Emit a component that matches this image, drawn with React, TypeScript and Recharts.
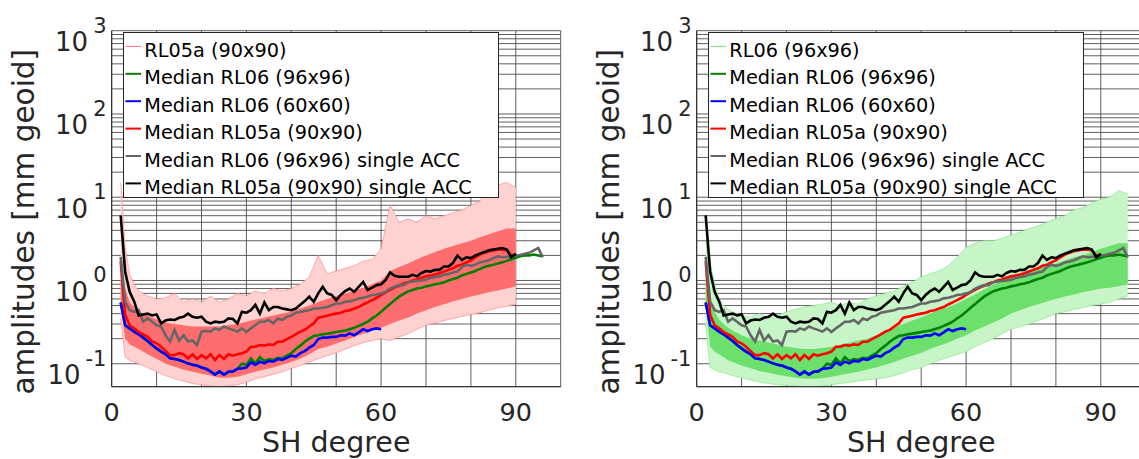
import { Area, CartesianGrid, ComposedChart, Legend, Line, XAxis, YAxis } from 'recharts';

// SH degrees for the median curves
const DEGREES = [
  2, 3, 4, 5, 6, 7, 8, 9, 10, 11, 12, 13, 14, 15, 16, 17, 18, 19, 20, 21, 22, 23, 24, 25, 26, 27, 28, 29, 30,
  31, 32, 33, 34, 35, 36, 37, 38, 39, 40, 41, 42, 43, 44, 45, 46, 47, 48, 49, 50, 51, 52, 53, 54, 55, 56, 57,
  58, 59, 60, 61, 62, 63, 64, 65, 66, 67, 68, 69, 70, 71, 72, 73, 74, 75, 76, 77, 78, 79, 80, 81, 82, 83, 84,
  85, 86, 87, 88, 89, 90, 91, 92, 93, 94, 95, 96,
];

// medians, starting at degree 2
const MED_RL06_96 = [
  0.545, 0.29, 0.266, 0.243, 0.226, 0.206, 0.188, 0.168, 0.153, 0.14, 0.13, 0.116, 0.114, 0.111, 0.106, 0.101,
  0.097, 0.095, 0.09, 0.087, 0.081, 0.074, 0.081, 0.074, 0.08, 0.081, 0.087, 0.1, 0.097, 0.116, 0.101, 0.12,
  0.108, 0.114, 0.111, 0.118, 0.116, 0.125, 0.134, 0.15, 0.165, 0.184, 0.2, 0.215, 0.22, 0.226, 0.23, 0.235,
  0.24, 0.245, 0.25, 0.26, 0.27, 0.285, 0.3, 0.32, 0.35, 0.38, 0.42, 0.47, 0.52, 0.58, 0.64, 0.69, 0.74, 0.77,
  0.8, 0.82, 0.85, 0.87, 0.9, 0.92, 0.95, 1.0, 1.04, 1.08, 1.15, 1.2, 1.25, 1.3, 1.38, 1.45, 1.5, 1.55, 1.6,
  1.65, 1.72, 1.8, 1.88, 1.95, 2.0, 2.0, 2.05, 2.0, 1.95,
];
const MED_RL06_60 = [
  0.545, 0.29, 0.266, 0.243, 0.226, 0.206, 0.188, 0.168, 0.153, 0.14, 0.13, 0.116, 0.114, 0.111, 0.106, 0.101,
  0.097, 0.095, 0.09, 0.087, 0.081, 0.074, 0.081, 0.074, 0.08, 0.081, 0.087, 0.088, 0.09, 0.104, 0.097, 0.106,
  0.101, 0.108, 0.106, 0.114, 0.111, 0.118, 0.125, 0.122, 0.134, 0.142, 0.156, 0.168, 0.198, 0.206, 0.206, 0.21,
  0.21, 0.22, 0.218, 0.232, 0.22, 0.238, 0.26, 0.247, 0.26, 0.266, 0.26,
];
const MED_RL05A_90 = [
  1.7, 0.385, 0.29, 0.266, 0.24, 0.225, 0.21, 0.185, 0.176, 0.16, 0.142, 0.127, 0.127, 0.134, 0.13, 0.116, 0.13,
  0.114, 0.127, 0.116, 0.13, 0.111, 0.127, 0.114, 0.13, 0.125, 0.13, 0.134, 0.14, 0.16, 0.16, 0.168, 0.165,
  0.171, 0.168, 0.184, 0.184, 0.198, 0.21, 0.225, 0.243, 0.255, 0.28, 0.305, 0.357, 0.367, 0.378, 0.39, 0.4,
  0.41, 0.43, 0.44, 0.46, 0.48, 0.515, 0.545, 0.58, 0.62, 0.67, 0.72, 0.77, 0.82, 0.86, 0.92, 0.95, 1.0, 1.03,
  1.08, 1.12, 1.15, 1.18, 1.22, 1.28, 1.34, 1.4, 1.5, 1.55, 1.65, 1.75, 1.9, 2.05, 2.15, 2.25, 2.3, 2.35, 2.35,
  2.3, 2.0, 2.05,
];
const MED_RL06_SACC = [
  1.92, 0.555, 0.44, 0.42, 0.44, 0.32, 0.35, 0.32, 0.29, 0.28, 0.22, 0.185, 0.255, 0.19, 0.22, 0.185, 0.19,
  0.168, 0.243, 0.247, 0.243, 0.266, 0.255, 0.28, 0.266, 0.255, 0.243, 0.266, 0.24, 0.266, 0.29, 0.32, 0.32,
  0.335, 0.305, 0.35, 0.335, 0.367, 0.378, 0.41, 0.42, 0.43, 0.44, 0.46, 0.46, 0.47, 0.48, 0.505, 0.53, 0.53,
  0.555, 0.565, 0.58, 0.61, 0.62, 0.64, 0.67, 0.68, 0.7, 0.73, 0.8, 0.84, 0.88, 0.88, 0.95, 0.97, 0.99, 1.0,
  1.02, 1.07, 1.1, 1.12, 1.17, 1.2, 1.25, 1.28, 1.45, 1.55, 1.5, 1.55, 1.65, 1.69, 1.75, 1.85, 1.95, 1.9, 1.92,
  1.95, 2.0, 2.02, 2.1, 2.15, 2.3, 2.45, 1.9,
];
const MED_RL05A_SACC = [
  6.06, 1.27, 0.73, 0.56, 0.38, 0.39, 0.4, 0.38, 0.39, 0.305, 0.33, 0.34, 0.335, 0.357, 0.367, 0.4, 0.367,
  0.357, 0.367, 0.32, 0.305, 0.32, 0.314, 0.32, 0.35, 0.345, 0.305, 0.42, 0.41, 0.44, 0.51, 0.4, 0.545, 0.44,
  0.48, 0.48, 0.46, 0.45, 0.44, 0.46, 0.51, 0.565, 0.64, 0.555, 0.7, 0.84, 0.7, 0.67, 0.58, 0.67, 0.745, 0.8,
  0.73, 0.84, 0.96, 0.77, 0.82, 0.88, 0.9, 1.01, 1.25, 1.14, 1.11, 1.11, 1.11, 1.17, 1.12, 1.23, 1.3, 1.28,
  1.34, 1.34, 1.47, 1.47, 1.62, 1.99, 1.77, 1.9, 1.86, 2.0, 2.1, 2.2, 2.3, 2.35, 2.4, 2.45, 2.35, 1.9, 2.1,
];

// spread of the monthly solutions (outer = all lines, core = dense part)
const BAND_DEG = [
  2, 3, 4, 5, 6, 7, 8, 10, 12, 14, 16, 18, 20, 22, 24, 26, 28, 30, 32, 34, 36, 38, 40, 42, 44, 46, 48, 50, 52,
  54, 56, 58, 60, 62, 64, 66, 68, 70, 72, 74, 76, 78, 80, 82, 84, 86, 88, 90, 92, 94, 96,
];
const RL05A_OUTER_LO = [
  0.35, 0.12, 0.11, 0.105, 0.1, 0.095, 0.09, 0.08, 0.072, 0.066, 0.062, 0.058, 0.056, 0.054, 0.053, 0.054, 0.056,
  0.06, 0.066, 0.07, 0.075, 0.08, 0.088, 0.095, 0.105, 0.115, 0.125, 0.135, 0.15, 0.165, 0.18, 0.19, 0.2, 0.19,
  0.21, 0.23, 0.26, 0.29, 0.31, 0.33, 0.35, 0.37, 0.39, 0.41, 0.44, 0.47, 0.49, 0.52,
];
const RL05A_OUTER_HI = [
  15, 2.5, 1.2, 0.9, 0.75, 0.7, 0.65, 0.6, 0.62, 0.7, 0.55, 0.6, 0.55, 0.65, 0.55, 0.6, 0.7, 0.65, 0.75, 0.7,
  0.8, 0.75, 0.8, 0.9, 1.1, 2.0, 1.2, 1.3, 1.4, 1.5, 1.7, 1.8, 2.4, 8, 5, 5.5, 5, 6, 5.5, 6, 6.5, 7, 8, 9, 13,
  14, 15, 13,
];
const RL05A_CORE_LO = [
  0.5, 0.2, 0.17, 0.16, 0.15, 0.14, 0.13, 0.115, 0.1, 0.092, 0.085, 0.08, 0.076, 0.072, 0.068, 0.068, 0.07,
  0.075, 0.08, 0.085, 0.09, 0.097, 0.105, 0.115, 0.13, 0.15, 0.16, 0.175, 0.19, 0.21, 0.23, 0.25, 0.27, 0.3,
  0.33, 0.36, 0.4, 0.44, 0.48, 0.52, 0.56, 0.6, 0.64, 0.68, 0.72, 0.76, 0.8, 0.85,
];
const RL05A_CORE_HI = [
  1.9, 0.8, 0.55, 0.48, 0.42, 0.4, 0.38, 0.34, 0.31, 0.3, 0.29, 0.28, 0.28, 0.28, 0.28, 0.29, 0.3, 0.32, 0.34,
  0.36, 0.38, 0.4, 0.42, 0.46, 0.5, 0.55, 0.6, 0.65, 0.7, 0.75, 0.82, 0.9, 1.0, 1.3, 1.45, 1.6, 1.8, 2.0, 2.2,
  2.4, 2.6, 2.8, 3.0, 3.3, 3.6, 3.9, 4.2, 4.2,
];
const RL06_OUTER_LO = [
  0.3, 0.09, 0.085, 0.08, 0.078, 0.075, 0.072, 0.068, 0.064, 0.06, 0.058, 0.056, 0.055, 0.054, 0.053, 0.053,
  0.054, 0.056, 0.058, 0.06, 0.062, 0.064, 0.066, 0.068, 0.072, 0.078, 0.085, 0.09, 0.1, 0.11, 0.12, 0.13, 0.14,
  0.16, 0.18, 0.2, 0.23, 0.26, 0.28, 0.3, 0.33, 0.36, 0.4, 0.42, 0.45, 0.47, 0.5, 0.52, 0.55, 0.6, 0.65,
];
const RL06_OUTER_HI = [
  3, 1.6, 0.9, 0.6, 0.5, 0.45, 0.42, 0.38, 0.36, 0.4, 0.35, 0.38, 0.42, 0.45, 0.48, 0.5, 0.52, 0.55, 0.5, 0.55,
  0.52, 0.6, 0.65, 0.7, 0.75, 0.85, 0.95, 1.1, 1.2, 1.3, 1.5, 1.9, 2.5, 2.8, 3.0, 3.0, 3.2, 3.5, 3.8, 4.2, 4.5,
  5.0, 5.5, 6.0, 7.0, 7.5, 8.5, 9.5, 10, 12, 11,
];
const RL06_CORE_LO = [
  0.5, 0.16, 0.14, 0.13, 0.12, 0.11, 0.105, 0.095, 0.088, 0.082, 0.078, 0.074, 0.071, 0.068, 0.066, 0.066, 0.067,
  0.07, 0.073, 0.077, 0.08, 0.085, 0.09, 0.097, 0.105, 0.115, 0.125, 0.135, 0.15, 0.165, 0.18, 0.2, 0.22, 0.25,
  0.28, 0.31, 0.35, 0.4, 0.44, 0.48, 0.52, 0.56, 0.6, 0.64, 0.68, 0.72, 0.76, 0.8, 0.82, 0.85, 0.9,
];
const RL06_CORE_HI = [
  1.8, 0.55, 0.42, 0.34, 0.3, 0.27, 0.25, 0.22, 0.2, 0.19, 0.18, 0.17, 0.16, 0.155, 0.15, 0.15, 0.155, 0.16,
  0.17, 0.18, 0.19, 0.2, 0.22, 0.24, 0.27, 0.3, 0.33, 0.36, 0.4, 0.44, 0.48, 0.53, 0.6, 0.68, 0.78, 0.88, 1.0,
  1.1, 1.2, 1.3, 1.4, 1.5, 1.6, 1.75, 1.9, 2.0, 2.2, 2.4, 2.6, 2.8, 2.8,
];

const X_TICKS = [0, 10, 20, 30, 40, 50, 60, 70, 80, 90, 100];
const X_LABELS = [0, 30, 60, 90];
const Y_TICKS = [
  0.1, 0.2, 0.3, 0.4, 0.5, 0.6, 0.7, 0.8, 0.9, 1, 2, 3, 4, 5, 6, 7, 8, 9, 10, 20, 30, 40, 50, 60, 70, 80, 90,
  100, 200, 300, 400, 500, 600, 700, 800, 900, 1000,
];

const FONT = 'DejaVu Sans';
const INK = '#262626';

const medianRows = DEGREES.map((deg, i) => ({
  deg,
  rl06: MED_RL06_96[i] ?? null,
  rl06_60: MED_RL06_60[i] ?? null,
  rl05a: MED_RL05A_90[i] ?? null,
  rl06_sacc: MED_RL06_SACC[i] ?? null,
  rl05a_sacc: MED_RL05A_SACC[i] ?? null,
}));

const rl05aBand = RL05A_OUTER_LO.map((lo, i) => ({
  deg: BAND_DEG[i],
  outer: [lo, RL05A_OUTER_HI[i]],
  core: [RL05A_CORE_LO[i], RL05A_CORE_HI[i]],
}));

const rl06Band = RL06_OUTER_LO.map((lo, i) => ({
  deg: BAND_DEG[i],
  outer: [lo, RL06_OUTER_HI[i]],
  core: [RL06_CORE_LO[i], RL06_CORE_HI[i]],
}));

const MEDIANS = [
  { key: 'rl06', name: 'Median RL06 (96x96)', color: '#008000' },
  { key: 'rl06_60', name: 'Median RL06 (60x60)', color: '#0000ff' },
  { key: 'rl05a', name: 'Median RL05a (90x90)', color: '#ff0000' },
  { key: 'rl06_sacc', name: 'Median RL06 (96x96) single ACC', color: '#666666' },
  { key: 'rl05a_sacc', name: 'Median RL05a (90x90) single ACC', color: '#000000' },
];

function XTick({ x, payload }: any) {
  if (!X_LABELS.includes(payload.value)) return null;
  return (
    <text x={x} y={420.5} textAnchor="middle" fontSize={25.5} fontFamily={FONT} fill={INK}>
      {payload.value}
    </text>
  );
}

function YTick({ y, payload }: any) {
  const lg = Math.log10(payload.value);
  const e = Math.round(lg);
  if (Math.abs(lg - e) > 1e-6) return null;
  return (
    <text x={106.5} y={y + 20.5} textAnchor="end" fontFamily={FONT} fill={INK}>
      <tspan fontSize={26}>10</tspan>
      <tspan fontSize={21} dx={5} dy={-18.5}>
        {e}
      </tspan>
    </text>
  );
}

function YTitle({ viewBox }: any) {
  const x = viewBox.x + 34;
  const y = viewBox.y + viewBox.height / 2 + 13;
  return (
    <text
      x={x}
      y={y}
      transform={`rotate(-90, ${x}, ${y})`}
      textAnchor="middle"
      fontSize={29.5}
      fontFamily={FONT}
      fill={INK}
    >
      amplitudes [mm geoid]
    </text>
  );
}

function XTitle({ viewBox }: any) {
  return (
    <text
      x={viewBox.x + viewBox.width / 2}
      y={viewBox.y + 65}
      textAnchor="middle"
      fontSize={28.5}
      fontFamily={FONT}
      fill={INK}
    >
      SH degree
    </text>
  );
}

interface Entry {
  name: string;
  color: string;
  width: number;
}

function LegendBox({ entries }: { entries: Entry[] }) {
  return (
    <svg width={376} height={166} style={{ display: 'block' }}>
      <rect x={0.5} y={0.5} width={375} height={165} fill="#fff" stroke={INK} strokeWidth={1} />
      {entries.map((e, k) => (
        <g key={e.name}>
          <line x1={2.5} x2={18} y1={14.4 + 27.4 * k} y2={14.4 + 27.4 * k} stroke={e.color} strokeWidth={e.width} />
          <text x={21.3} y={25 + 27.4 * k} fontSize={19.3} fontFamily={FONT} fill="#000">
            {e.name}
          </text>
        </g>
      ))}
    </svg>
  );
}

interface PanelProps {
  band: { deg: number; outer: number[]; core: number[] }[];
  cloudName: string;
  lineColor: string;
  outerFill: string;
  coreFill: string;
}

function Panel({ band, cloudName, lineColor, outerFill, coreFill }: PanelProps) {
  const entries: Entry[] = [
    { name: cloudName, color: lineColor, width: 1.2 },
    ...MEDIANS.map((m) => ({ name: m.name, color: m.color, width: 2 })),
  ];
  return (
    <ComposedChart width={585} height={459} margin={{ top: 30.7, right: 24.3, bottom: 0, left: 0 }}>
      <CartesianGrid stroke="#4d4d4d" strokeWidth={0.9} />
      <XAxis
        dataKey="deg"
        type="number"
        domain={[0, 100]}
        ticks={X_TICKS}
        interval={0}
        allowDataOverflow
        height={72.3}
        tickLine={false}
        axisLine={{ stroke: INK }}
        tick={<XTick />}
        label={<XTitle />}
      />
      <YAxis
        type="number"
        scale="log"
        domain={[0.053, 1000]}
        ticks={Y_TICKS}
        interval={0}
        allowDataOverflow
        width={111.7}
        tickLine={false}
        axisLine={{ stroke: INK }}
        tick={<YTick />}
        label={<YTitle />}
      />
      <Area
        data={band}
        dataKey="outer"
        type="linear"
        fill={outerFill}
        fillOpacity={1}
        stroke={lineColor}
        strokeWidth={0.7}
        isAnimationActive={false}
      />
      <Area
        data={band}
        dataKey="core"
        type="linear"
        fill={coreFill}
        fillOpacity={1}
        stroke="none"
        isAnimationActive={false}
      />
      {MEDIANS.map((m) => (
        <Line
          key={m.key}
          data={medianRows}
          dataKey={m.key}
          type="linear"
          stroke={m.color}
          strokeWidth={2.6}
          dot={false}
          activeDot={false}
          isAnimationActive={false}
        />
      ))}
      <Legend
        layout="horizontal"
        verticalAlign="middle"
        align="center"
        wrapperStyle={{ left: 122.7, top: 32.3, width: 376, height: 166 }}
        content={() => <LegendBox entries={entries} />}
      />
    </ComposedChart>
  );
}

export default function App() {
  return (
    <div
      style={{
        position: 'absolute',
        left: 0,
        top: 0,
        width: 1139,
        height: 459,
        overflow: 'hidden',
        background: '#fff',
      }}
    >
      <div style={{ position: 'absolute', left: 0, top: 0 }}>
        <Panel
          band={rl05aBand}
          cloudName="RL05a (90x90)"
          lineColor="#ff8c8c"
          outerFill="#ffd2d2"
          coreFill="#ff6e6e"
        />
      </div>
      <div style={{ position: 'absolute', left: 585, top: 0 }}>
        <Panel
          band={rl06Band}
          cloudName="RL06 (96x96)"
          lineColor="#86e886"
          outerFill="#c8f5c8"
          coreFill="#6ddf6d"
        />
      </div>
    </div>
  );
}
